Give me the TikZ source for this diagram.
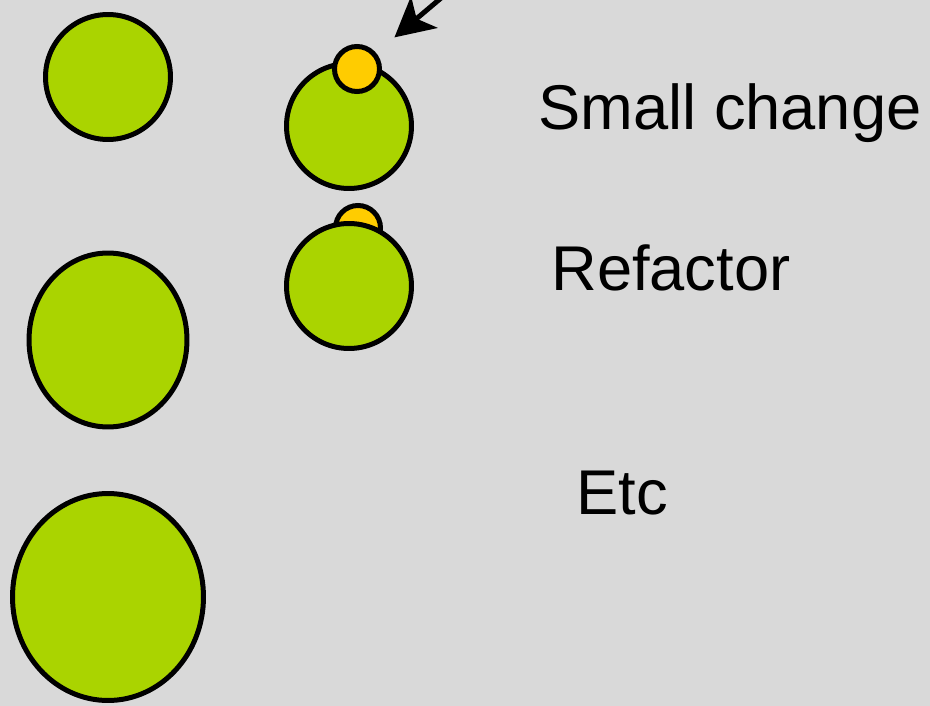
\documentclass[tikz,border=0pt]{standalone}
\usepackage{fontspec}
\setmainfont{Liberation Sans}
\usetikzlibrary{positioning,arrows.meta,shapes.geometric}
\definecolor{bgGrey}{RGB}{217,217,217}
\definecolor{ballGreen}{RGB}{170,212,0}
\definecolor{dotYellow}{RGB}{255,204,0}

\begin{document}
\begin{tikzpicture}[
  x=0.02cm, y=-0.02cm,
  ball/.style={ellipse, draw=black, fill=ballGreen, line width=0.1cm, inner sep=0pt},
  dot/.style={circle, draw=black, fill=dotYellow, line width=0.1cm, inner sep=0pt, minimum size=0.9cm},
  lbl/.style={font=\fontsize{36}{40}\selectfont, anchor=base west, inner sep=0pt},
  arr/.style={-{Stealth[length=0.78cm, width=0.82cm, inset=0.2cm]}, line width=0.1cm},
]
\fill[bgGrey] (0,0) rectangle (930,706);
\useasboundingbox (0,0) rectangle (930,706);
% growing balls on the left
\node[ball, minimum width=2.5cm, minimum height=2.5cm] (ballA) at (108,77) {};
\node[ball, minimum width=3.16cm, minimum height=3.48cm] (ballB) at (108,340) {};
\node[ball, minimum width=3.82cm, minimum height=4.14cm] (ballC) at (108,597) {};
% small change: dot on top
\node[ball, minimum width=2.5cm, minimum height=2.5cm] (changeBall) at (349,126) {};
\node[dot] (changeDot) at (357,69) {};
% refactor: dot behind
\node[dot] (refDot) at (358,228) {};
\node[ball, minimum width=2.5cm, minimum height=2.5cm] (refBall) at (349,286) {};
\coordinate (arrStart) at (447,-7);
\draw[arr, shorten >=0.48cm] (arrStart) -- (changeDot);
% labels
\node[lbl] (smallTxt) at (538,130) {Small change};
\node[lbl] (refTxt) at (551,290) {Refactor};
\node[lbl] (etcTxt) at (576,514) {Etc};
\end{tikzpicture}
\end{document}
